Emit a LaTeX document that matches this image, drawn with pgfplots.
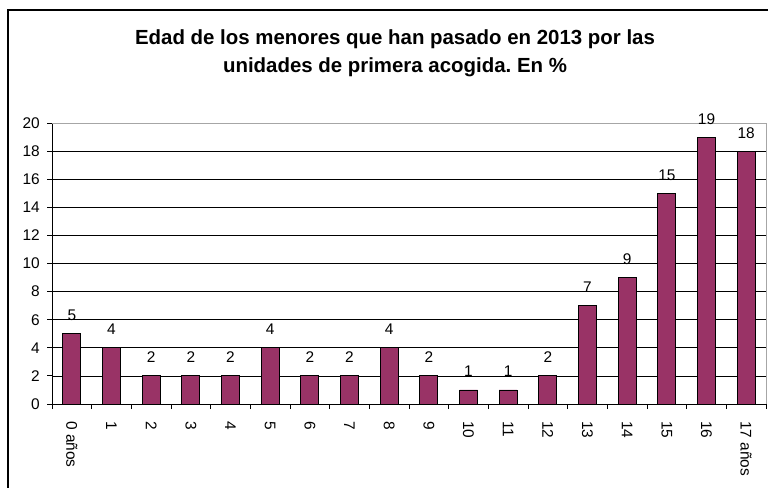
\documentclass[border=0pt]{standalone}
\usepackage{pgfplots}
\pgfplotsset{compat=1.18}
\usepackage{fontspec}
\setmainfont{Liberation Sans}
\definecolor{barc}{RGB}{153,51,102}
\frenchspacing
\begin{document}
\begin{tikzpicture}
\begin{axis}[
  at={(52bp,84bp)}, anchor=south west,
  scale only axis, width=714bp, height=281bp,
  ybar, bar width=18bp,
  xmin=-0.5, xmax=17.5, ymin=0, ymax=20,
  axis x line*=bottom, axis y line*=left,
  axis line style={-, black, line width=0.8bp},
  xtick={0,...,17},
  xticklabels={0 años,1,2,3,4,5,6,7,8,9,10,11,12,13,14,15,16,17 años},
  minor xtick={-0.5,0.5,...,17.5},
  major x tick style={draw=none},
  minor x tick style={black, line width=0.8bp},
  minor tick length=5bp,
  ytick={0,2,...,20},
  major tick length=5bp,
  tick align=outside,
  ytick style={black, line width=0.8bp},
  ymajorgrids, grid style={black, line width=0.6bp},
  /pgf/number format/assume math mode=true,
  tick label style={font=\fontsize{15.5}{17}\selectfont},
  xticklabel style={rotate=-90, anchor=west, inner sep=0pt},
  xticklabel shift=12bp,
  yticklabel style={inner sep=0pt},
  yticklabel shift=7bp,
  nodes near coords,
  nodes near coords style={font=\fontsize{15.5}{17}\selectfont, anchor=base, inner sep=0pt, yshift=13bp},
  clip=false,
]
\addplot[fill=barc, draw=black, line width=0.8bp] coordinates {
(0,5) (1,4) (2,2) (3,2) (4,2) (5,4) (6,2) (7,2) (8,4) (9,2)
(10,1) (11,1) (12,2) (13,7) (14,9) (15,15) (16,19) (17,18)};
\draw[gray!70, line width=0.8bp] (rel axis cs:0,1) -- (rel axis cs:1,1) -- (rel axis cs:1,0);
\end{axis}
\node[font=\bfseries\fontsize{20.5}{24}\selectfont, anchor=base] at (395bp,443bp) {Edad de los menores que han pasado en 2013 por las};
\node[font=\bfseries\fontsize{20.5}{24}\selectfont, anchor=base] at (395bp,415bp) {unidades de primera acogida. En \%};
\draw[black, line width=1.2bp] (8bp,-30bp) -- (8bp,478bp) -- (800bp,478bp);
\pgfresetboundingbox
\path[use as bounding box] (0,0) rectangle (768bp,488bp);
\end{tikzpicture}
\end{document}
